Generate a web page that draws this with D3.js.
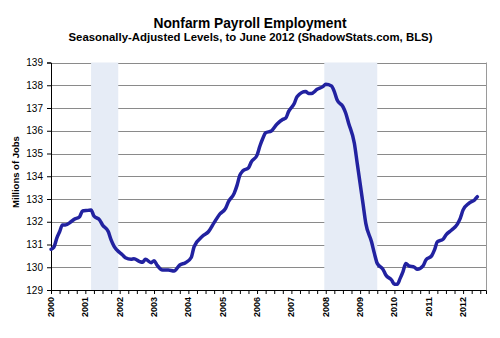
<!DOCTYPE html>
<html><head><meta charset="utf-8">
<script src="https://cdn.jsdelivr.net/npm/d3@7"></script>
<style>body{margin:0;background:#fff}svg{display:block}text{font-family:"Liberation Sans",Arial,sans-serif}</style>
</head><body>
<script>
const title = "Nonfarm Payroll Employment";
const subtitle = "Seasonally-Adjusted Levels, to June 2012 (ShadowStats.com, BLS)";
const yLabel = "Millions of Jobs";
// months since Jan 2000
const months = [0,1,2,3,4,5,7,8,10,11,13,14,15,17,18,20,21,22,23,25,26,28,29,31,32,33,35,36,37,39,41,43,45,47,49,50,53,55,57,59,61,62,64,65,66,67,69,70,72,73,74,75,77,79,81,82,83,85,86,89,90,91,93,95,96,98,99,100,102,103,104,106,107,108,109,110,112,113,114,116,117,119,120,121,122,123,124,125,127,128,130,131,133,134,135,137,138,140,142,143,144,146,148,149];
const jobs = [130.79,130.88,131.27,131.56,131.86,131.86,132.0,132.1,132.22,132.47,132.5,132.52,132.25,132.08,131.86,131.57,131.2,130.93,130.76,130.54,130.42,130.35,130.37,130.25,130.22,130.35,130.2,130.29,130.1,129.88,129.88,129.84,130.1,130.2,130.43,130.9,131.37,131.56,131.96,132.34,132.59,132.88,133.25,133.6,134.05,134.23,134.37,134.63,134.93,135.33,135.66,135.91,135.99,136.3,136.5,136.55,136.84,137.2,137.5,137.72,137.64,137.64,137.82,137.94,138.04,137.97,137.72,137.35,137.06,136.77,136.33,135.45,134.57,133.69,132.81,131.93,131.12,130.61,130.17,129.91,129.66,129.44,129.25,129.25,129.51,129.81,130.17,130.06,130.0,129.91,130.06,130.32,130.5,130.76,131.12,131.23,131.42,131.64,131.9,132.15,132.52,132.81,132.96,133.1];
const years = [2000,2001,2002,2003,2004,2005,2006,2007,2008,2009,2010,2011,2012];
const yTicks = [129,130,131,132,133,134,135,136,137,138,139];
// recessions (months since Jan 2000): Mar-Nov 2001, Dec 2007-Jun 2009
const recStart = [14, 95.5];
const recEnd = [23.5, 114];
const recessions = recStart.map((s,i)=>[s, recEnd[i]]);

const W=500,H=338;
const svg=d3.select("body").append("svg").attr("width",W).attr("height",H);
const L=51,R=486,T=62.5,B=290;
const x=d3.scaleLinear().domain([0,152]).range([L,R]);
const y=d3.scaleLinear().domain([129,139]).range([B,T]);

svg.append("text").attr("x",250).attr("y",28).attr("text-anchor","middle")
  .attr("font-size",14.5).attr("font-weight","bold").attr("textLength",193).attr("lengthAdjust","spacingAndGlyphs").text(title);
svg.append("text").attr("x",250.5).attr("y",41).attr("text-anchor","middle")
  .attr("font-size",11).attr("font-weight","bold").attr("textLength",364).attr("lengthAdjust","spacingAndGlyphs").text(subtitle);

// gridlines
svg.append("g").selectAll("line").data(yTicks.filter(v=>v>129)).join("line")
  .attr("x1",L).attr("x2",R).attr("y1",d=>Math.round(y(d))+0.5).attr("y2",d=>Math.round(y(d))+0.5)
  .attr("stroke","#8a8a8a").attr("stroke-width",1);
svg.append("line").attr("x1",R+0.5).attr("x2",R+0.5).attr("y1",T).attr("y2",B).attr("stroke","#9a9a9a");

// recession bands
svg.append("g").selectAll("rect").data(recessions).join("rect")
  .attr("x",d=>x(d[0])).attr("width",d=>x(d[1])-x(d[0])).attr("y",T).attr("height",B-T)
  .attr("fill","#e6ecf6");

// axes
const yAxis=d3.axisLeft(y).tickValues(yTicks).tickSize(4).tickFormat(d3.format("d"));
const gy=svg.append("g").attr("transform",`translate(${L},0)`).call(yAxis);
gy.select(".domain").attr("stroke","#000");
gy.selectAll("text").attr("font-size",10).attr("fill","#000").attr("x",-8);

const qTicks=d3.range(0,153,3);
const xAxis=d3.axisBottom(x).tickValues(qTicks).tickSize(4).tickFormat("");
const gx=svg.append("g").attr("transform",`translate(0,${B})`).call(xAxis);
gx.select(".domain").attr("stroke","#000");

svg.append("g").selectAll("text").data(years).join("text")
  .attr("transform",d=>`translate(${x((d-2000)*12)+3},${297}) rotate(-90)`)
  .attr("text-anchor","end").attr("font-size",9).attr("font-weight","bold").text(d=>d);

svg.append("text").attr("transform","translate(19,172) rotate(-90)").attr("text-anchor","middle")
  .attr("font-size",9.5).attr("font-weight","bold").text(yLabel);

// line
const line=d3.line().x(d=>x(d[0])).y(d=>y(d[1])).curve(d3.curveMonotoneX);
svg.append("path").datum(months.map((m,i)=>[m,jobs[i]])).attr("d",line)
  .attr("fill","none").attr("stroke","#2222a0").attr("stroke-width",3.5).attr("stroke-linejoin","round").attr("stroke-linecap","round");
</script>
</body></html>
